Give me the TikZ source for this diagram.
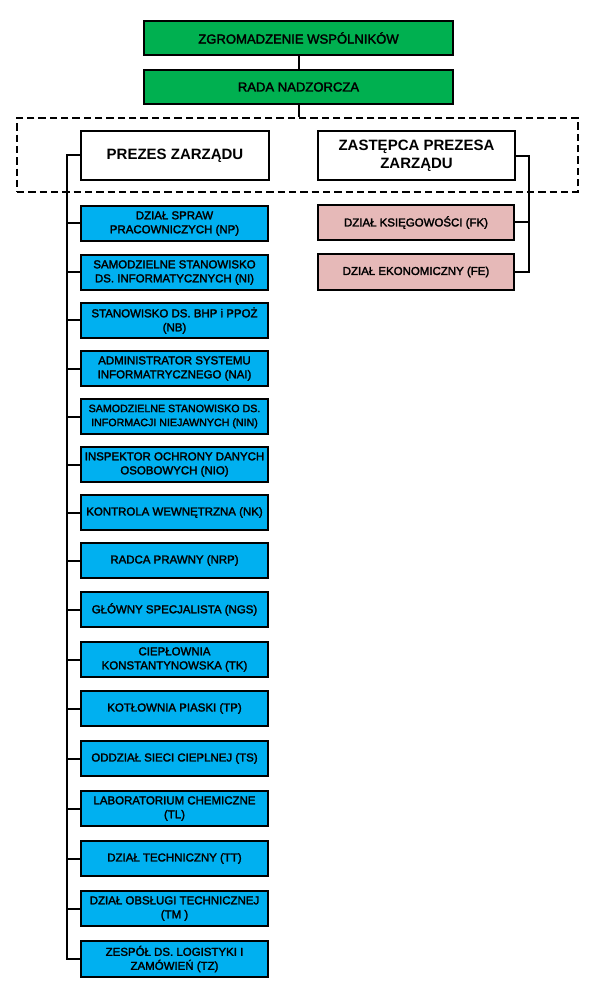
\documentclass[tikz,border=0pt]{standalone}
\usepackage{fontspec}
\setmainfont{Liberation Sans}
\newfontfamily\unitfont{Liberation Sans}[FakeBold=2.2]
\definecolor{boardgreen}{HTML}{00B050}
\definecolor{unitblue}{HTML}{00B0F0}
\definecolor{financepink}{HTML}{E6B9B8}

\begin{document}
\begin{tikzpicture}[y=-0.75pt, x=0.75pt,
    link/.style={line width=1.5pt},
    board/.style={draw, line width=1.5pt, fill=boardgreen, inner sep=0pt, minimum width=232pt, minimum height=25.5pt, font=\unitfont\fontsize{9.8}{12}\selectfont},
    head/.style={draw, line width=1.5pt, fill=white, inner sep=0pt, minimum height=36.75pt, align=center, font=\bfseries\fontsize{11.25}{13.75}\selectfont},
    unit/.style={draw, line width=1.5pt, fill=unitblue, inner sep=0pt, minimum width=140.5pt, minimum height=26.5pt, align=center, font=\unitfont\fontsize{8.6}{10.5}\selectfont},
    finance/.style={unit, fill=financepink, minimum width=147pt}]
    \useasboundingbox (0,0) rectangle (596,994);

    \node[board] (zgromadzenie) at (298.5,38) {ZGROMADZENIE WSPÓLNIKÓW};
    \node[board] (rada) at (298.5,87) {RADA NADZORCZA};
    \node[draw, dashed, dash pattern=on 5.5pt off 3pt, line width=1.6pt, inner sep=0pt, minimum width=420.75pt, minimum height=55.5pt] (zarzad) at (297.5,155) {};
    \draw[link] (zgromadzenie) -- (rada);
    \draw[link] (rada) -- (zarzad.north -| rada.south);

    \node[head, minimum width=141pt] (prezes) at (175,155.5) {PREZES ZARZĄDU};
    \node[head, minimum width=147.75pt] (zastepca) at (416.5,156) {ZASTĘPCA PREZESA\\ZARZĄDU};

    % right branch
    \node[finance] (fk) at (416,222.5) {DZIAŁ KSIĘGOWOŚCI (FK)};
    \node[finance] (fe) at (416,272) {DZIAŁ EKONOMICZNY (FE)};
    \coordinate (rspine) at (529,156);
    \draw[link] (zastepca.east) -- (rspine) |- (fe.east);
    \draw[link] (rspine |- fk.east) -- (fk.east);

    % left branch
    \node[unit] (np) at (174.5,223.5) {DZIAŁ SPRAW\\PRACOWNICZYCH (NP)};
    \node[unit] (ni) at (174.5,272.5) {SAMODZIELNE STANOWISKO\\DS. INFORMATYCZNYCH (NI)};
    \node[unit] (nb) at (174.5,320.5) {STANOWISKO DS. BHP i PPOŻ\\(NB)};
    \node[unit] (nai) at (174.5,368.5) {ADMINISTRATOR SYSTEMU\\INFORMATRYCZNEGO (NAI)};
    \node[unit, font=\unitfont\fontsize{8}{10.5}\selectfont] (nin) at (174.5,416.5) {SAMODZIELNE STANOWISKO DS.\\INFORMACJI NIEJAWNYCH (NIN)};
    \node[unit] (nio) at (174.5,464.5) {INSPEKTOR OCHRONY DANYCH\\OSOBOWYCH (NIO)};
    \node[unit] (nk) at (174.5,512.5) {KONTROLA WEWNĘTRZNA (NK)};
    \node[unit] (nrp) at (174.5,560.5) {RADCA PRAWNY (NRP)};
    \node[unit] (ngs) at (174.5,609.5) {GŁÓWNY SPECJALISTA (NGS)};
    \node[unit] (tk) at (174.5,659.5) {CIEPŁOWNIA\\KONSTANTYNOWSKA (TK)};
    \node[unit] (tp) at (174.5,708.5) {KOTŁOWNIA PIASKI (TP)};
    \node[unit] (ts) at (174.5,758.5) {ODDZIAŁ SIECI CIEPLNEJ (TS)};
    \node[unit] (tl) at (174.5,808.5) {LABORATORIUM CHEMICZNE\\(TL)};
    \node[unit] (tt) at (174.5,858.5) {DZIAŁ TECHNICZNY (TT)};
    \node[unit] (tm) at (174.5,908.5) {DZIAŁ OBSŁUGI TECHNICZNEJ\\(TM )};
    \node[unit] (tz) at (174.5,959) {ZESPÓŁ DS. LOGISTYKI I\\ZAMÓWIEŃ (TZ)};

    \coordinate (lspine) at (66.5,155.5);
    \draw[link] (prezes.west) -- (lspine) |- (tz.west);
    \draw[link] (lspine |- np.west) -- (np.west);
    \draw[link] (lspine |- ni.west) -- (ni.west);
    \draw[link] (lspine |- nb.west) -- (nb.west);
    \draw[link] (lspine |- nai.west) -- (nai.west);
    \draw[link] (lspine |- nin.west) -- (nin.west);
    \draw[link] (lspine |- nio.west) -- (nio.west);
    \draw[link] (lspine |- nk.west) -- (nk.west);
    \draw[link] (lspine |- nrp.west) -- (nrp.west);
    \draw[link] (lspine |- ngs.west) -- (ngs.west);
    \draw[link] (lspine |- tk.west) -- (tk.west);
    \draw[link] (lspine |- tp.west) -- (tp.west);
    \draw[link] (lspine |- ts.west) -- (ts.west);
    \draw[link] (lspine |- tl.west) -- (tl.west);
    \draw[link] (lspine |- tt.west) -- (tt.west);
    \draw[link] (lspine |- tm.west) -- (tm.west);

  \end{tikzpicture}
\end{document}
